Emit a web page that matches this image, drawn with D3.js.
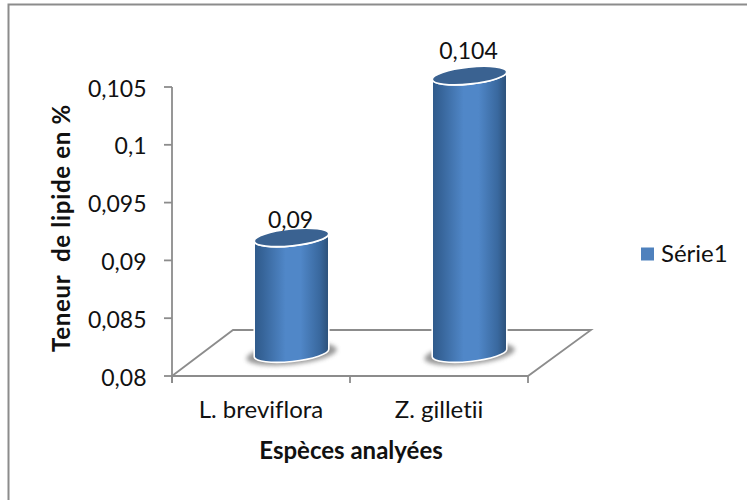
<!DOCTYPE html>
<html><head><meta charset="utf-8">
<script src="https://d3js.org/d3.v7.min.js"></script>
<style>html,body{margin:0;padding:0;background:#fff}svg{display:block}text{font-family:Lato,"Noto Sans",sans-serif;fill:#111;font-variant-ligatures:none}</style>
</head><body><div id="c"></div>
<script>
const categories = ["L. breviflora", "Z. gilletii"];
const seriesName = "Série1";
const values = [0.09, 0.104];
const valueLabels = ["0,09", "0,104"];
const yTicks = [0.08, 0.085, 0.09, 0.095, 0.1, 0.105];
const yTickLabels = ["0,08", "0,085", "0,09", "0,095", "0,1", "0,105"];
const xTitle = "Espèces analyées";
const yTitle = "Teneur  de lipide en %";

const W = 747, H = 500;
const svg = d3.select("#c").append("svg").attr("width", W).attr("height", H);
const defs = svg.append("defs");
const grad = defs.append("linearGradient").attr("id", "cyl");
[[0,"#2f5a8a"],[0.12,"#37659a"],[0.42,"#5087c8"],[0.62,"#5087c8"],[0.88,"#39689e"],[1,"#2c5078"]]
  .forEach(([o,c]) => grad.append("stop").attr("offset", o).attr("stop-color", c));
const blur = defs.append("filter").attr("id","sh").attr("x","-30%").attr("y","-60%").attr("width","160%").attr("height","220%");
blur.append("feGaussianBlur").attr("stdDeviation", 2);

const grey = "#8c8c8c";
const y = d3.scaleLinear().domain([0.08, 0.105]).range([376, 87]);
const x = d3.scaleBand().domain(categories).range([172, 528]);
const dx = 61, dy = 46;
const cxOff = dx / 2, cyOff = dy / 2, rx = 37.5, ry = 8.5, tilt = -6;
const labelY = d3.scaleLinear().domain([0.09, 0.104]).range([228, 59]);

svg.append("path").attr("d", d3.line()([[8.5,500],[8.5,4.5],[747,4.5]]))
  .attr("fill","none").attr("stroke",grey).attr("stroke-width",2);

const ax = svg.append("g").attr("fill","none").attr("stroke",grey).attr("stroke-width",1.8);
ax.append("path").attr("d", d3.line()([
  [x.range()[0], y(0.08)], [x.range()[1], y(0.08)], [x.range()[1]+dx+2, y(0.08)-dy],
  [x.range()[0]+dx, y(0.08)-dy], [x.range()[0], y(0.08)]]));
ax.append("line").attr("x1",172).attr("x2",172).attr("y1",y(0.105)).attr("y2",y(0.08)+7);
yTicks.forEach(t => ax.append("line").attr("x1",164).attr("x2",172).attr("y1",y(t)).attr("y2",y(t)));
[0,1,2].forEach(i => {
  const px = 172 + i * x.step();
  ax.append("line").attr("x1",px).attr("x2",px).attr("y1",376).attr("y2",383);
});

svg.selectAll(".yl").data(yTicks).join("text").attr("class","yl")
  .attr("x",146.5).attr("y",d=>y(d)+9.5).attr("text-anchor","end").attr("font-size",23)
  .text((d,i)=>yTickLabels[i]);
svg.selectAll(".xl").data(categories).join("text").attr("class","xl")
  .attr("x",d=>x(d)+x.bandwidth()/2).attr("y",418).attr("text-anchor","middle").attr("font-size",24)
  .text(d=>d);

categories.forEach((c,i) => {
  const cx = x(c) + x.bandwidth()/2 + cxOff;
  const top = y(values[i]) - cyOff;
  const base = y(0.08) - cyOff;
  const g = svg.append("g");
  const rot = (yy) => `rotate(${tilt} ${cx} ${yy})`;
  g.append("ellipse").attr("cx",cx).attr("cy",base+1).attr("rx",rx+8).attr("ry",ry+2)
    .attr("transform",rot(base)).attr("fill","#777").attr("opacity",.75).attr("filter","url(#sh)");
  const a = tilt*Math.PI/180;
  const lx = cx-rx*Math.cos(a), rxx = cx+rx*Math.cos(a), s = rx*Math.sin(a);
  const body = `M${lx},${top-s} L${lx},${base-s} A${rx},${ry} ${tilt} 0 0 ${rxx},${base+s} L${rxx},${top+s} A${rx},${ry} ${tilt} 0 1 ${lx},${top-s} Z`;
  g.append("path").attr("d",body).attr("fill","url(#cyl)").attr("stroke","#fff").attr("stroke-width",1.6);
  g.append("ellipse").attr("cx",cx).attr("cy",top).attr("rx",rx).attr("ry",ry)
    .attr("transform",rot(top)).attr("fill","#3a6291").attr("stroke","#fff").attr("stroke-width",1.8);
});
svg.selectAll(".vl").data(values).join("text").attr("class","vl")
  .attr("x",(d,i)=>x(categories[i])+x.bandwidth()/2+cxOff-1)
  .attr("y",d=>labelY(d))
  .attr("text-anchor","middle").attr("font-size",23).text((d,i)=>valueLabels[i]);

svg.append("text").attr("x",351).attr("y",459).attr("text-anchor","middle")
  .attr("font-size",24).attr("font-weight",700).text(xTitle);
svg.append("text").attr("transform","translate(70,228) rotate(-90)").attr("text-anchor","middle")
  .attr("font-size",24).attr("font-weight",700).attr("letter-spacing",0.7).style("white-space","pre").text(yTitle);

svg.append("rect").attr("x",641).attr("y",247.5).attr("width",13).attr("height",13).attr("fill","#4f81bd");
svg.append("text").attr("x",661).attr("y",262).attr("font-size",24).text(seriesName);
</script></body></html>
